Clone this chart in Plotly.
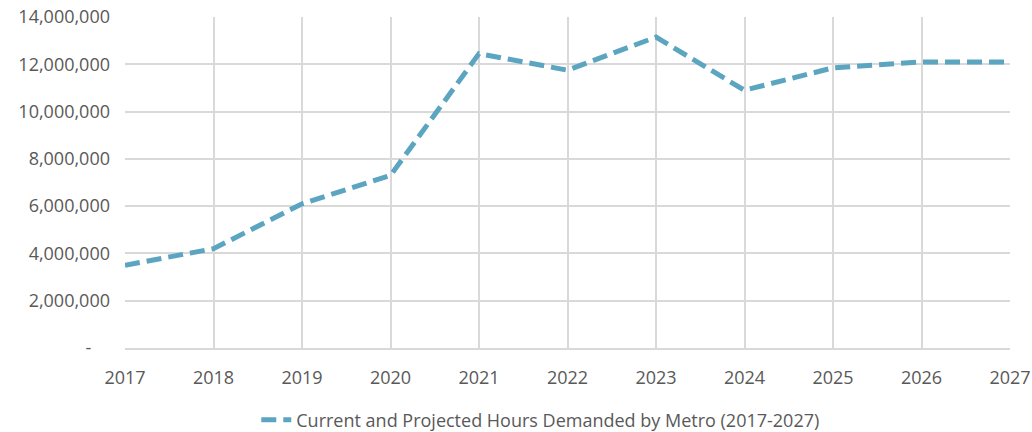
import plotly.graph_objects as go

years = [2017, 2018, 2019, 2020, 2021, 2022, 2023, 2024, 2025, 2026, 2027]
hours = [3500000, 4200000, 6100000, 7300000, 12450000, 11750000, 13150000,
         10900000, 11850000, 12100000, 12100000]
series_name = "Current and Projected Hours Demanded by Metro (2017-2027)"
y_tickvals = [0, 2000000, 4000000, 6000000, 8000000, 10000000, 12000000, 14000000]
y_ticktext = ["-\u00a0\u00a0\u00a0\u00a0", "2,000,000", "4,000,000", "6,000,000", "8,000,000",
              "10,000,000", "12,000,000", "14,000,000"]

fig = go.Figure()
fig.add_trace(go.Scatter(
    x=years, y=hours, mode="lines", name=series_name,
    line=dict(color="#5BA5C1", width=5, dash="15px,7px"),
))

fig.update_layout(
    width=1032, height=432,
    margin=dict(l=125, r=22, t=17, b=84, autoexpand=False),
    paper_bgcolor="white", plot_bgcolor="white",
    font=dict(family="Open Sans, Liberation Sans, sans-serif", size=18, color="#595959"),
    showlegend=True,
    legend=dict(orientation="h", x=0.524, xanchor="center", xref="container",
                y=-0.2175, yanchor="middle", yref="paper",
                font=dict(size=18, color="#595959")),
    xaxis=dict(range=[2017, 2027], tickvals=years, showgrid=True,
               gridcolor="#D9D9D9", gridwidth=2, showline=True, linecolor="#D9D9D9",
               linewidth=2, zeroline=False, ticks="", ticklabelstandoff=12),
    yaxis=dict(range=[0, 14000000], tickvals=y_tickvals, ticktext=y_ticktext,
               showgrid=True, gridcolor="#D9D9D9", gridwidth=2, zeroline=False,
               showline=False, ticks="", ticklabelstandoff=14),
)

fig.write_html("out.html", config={"displayModeBar": False},
               post_script="document.body.style.margin='0';document.body.style.overflow='hidden';")
